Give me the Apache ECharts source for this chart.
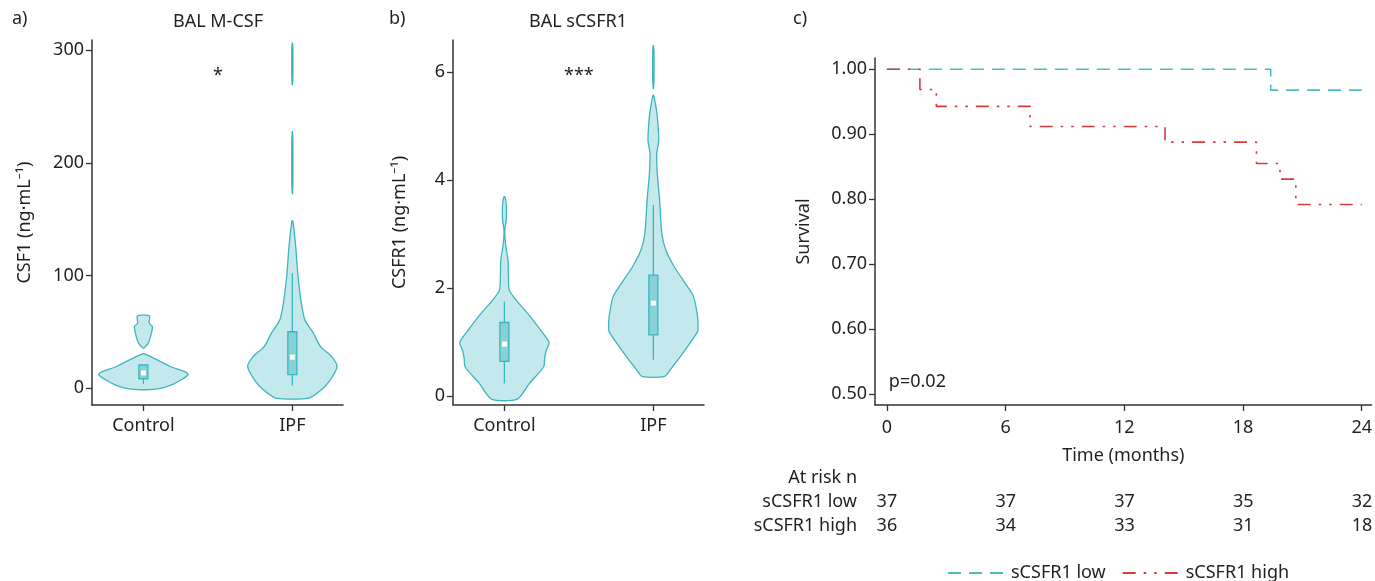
<!DOCTYPE html>
<html>
<head>
<meta charset="utf-8">
<script src="https://cdn.jsdelivr.net/npm/echarts@6/dist/echarts.min.js"></script>
<style>
html,body{margin:0;padding:0;background:#fff;}
#chart{width:1375px;height:581px;}
</style>
</head>
<body>
<div id="chart"></div>
<script>
const groups = ['Control', 'IPF']

// violin outlines as [value, relative density], a group can have several pieces
const mcsfControl = [
  [[-0.9, 0.28], [2.9, 0.63], [7.4, 0.85], [10.9, 0.98], [12.5, 1.0], [14.7, 0.92], [19.2, 0.6], [25.1, 0.31], [30.4, 0.02]],
  [[35.5, 0.01], [39.9, 0.11], [45.8, 0.16], [51.7, 0.195], [54.7, 0.2], [57.7, 0.13], [62.1, 0.14], [64.4, 0.13]]
]
const mcsfIpf = [
  [[-8.9, 0.36], [-1.5, 0.65], [7.4, 0.85], [19.2, 1.0], [28, 0.88], [36.9, 0.63], [48.8, 0.47], [60.6, 0.28], [78.3, 0.19], [102, 0.12], [125.6, 0.075], [148.4, 0.01]],
  [[172.5, 0.002], [180, 0.012], [200, 0.014], [220, 0.012], [227.7, 0.002]],
  [[269.3, 0.002], [276, 0.012], [295, 0.014], [302, 0.012], [306.3, 0.002]]
]
const scsfr1Control = [
  [[-0.06, 0.29], [0.23, 0.56], [0.54, 0.88], [0.7, 0.9], [0.85, 0.94], [0.99, 1.0], [1.22, 0.81], [1.47, 0.58], [1.78, 0.26], [1.96, 0.11], [2.21, 0.09], [2.52, 0.08], [2.76, 0.035], [2.94, 0.012], [3.09, 0.01], [3.25, 0.04], [3.45, 0.045], [3.6, 0.035], [3.69, 0.01]]
]
const scsfr1Ipf = [
  [[0.36, 0.25], [0.48, 0.375], [0.85, 0.71], [1.19, 0.99], [1.3, 1.0], [1.47, 0.99], [1.84, 0.9], [2.09, 0.71], [2.39, 0.47], [2.7, 0.28], [3.01, 0.19], [3.63, 0.14], [4.0, 0.1], [4.25, 0.08], [4.5, 0.075], [4.74, 0.12], [5.17, 0.09], [5.45, 0.04], [5.58, 0.005]],
  [[5.7, 0.002], [5.85, 0.014], [6.2, 0.016], [6.4, 0.014], [6.5, 0.002]]
]

// box stats per group: [low whisker, q1, median, q3, high whisker]
const mcsfBox = [[3.8, 8.3, 13.5, 20.5, 20.5], [2.3, 12, 27.5, 50, 102]]
const scsfr1Box = [[0.23, 0.64, 0.96, 1.36, 1.75], [0.67, 1.13, 1.72, 2.24, 3.54]]

// Kaplan-Meier steps
const kmLowT = [0, 19.4, 24]
const kmLowS = [1, 0.968, 0.968]
const kmHighT = [0, 1.67, 2.5, 7.24, 14.06, 18.68, 19.87, 20.67, 24]
const kmHighS = [1, 0.969, 0.943, 0.912, 0.888, 0.855, 0.831, 0.792, 0.792]

// at risk table
const riskTimes = [0, 6, 12, 18, 24]
const riskLow = [37, 37, 37, 35, 32]
const riskHigh = [36, 34, 33, 31, 18]

const TEAL = '#3db5bf'
const FILL = 'rgba(61,181,191,0.3)'
const BOXFILL = 'rgba(61,181,191,0.45)'
const TXT = '#231f20'
const FONT = 'Noto Sans'
const VIOLIN_W = 0.3

let chart = echarts.init(document.getElementById('chart'))

function axisBase(){
  return {
    axisLine: {show: true, onZero: false, lineStyle: {color: '#333', width: 1.5}},
    axisTick: {show: true, length: 6, lineStyle: {color: '#333', width: 1.3}},
    axisLabel: {color: TXT, fontSize: 18, fontFamily: FONT},
    splitLine: {show: false},
    nameTextStyle: {color: TXT, fontSize: 18, fontFamily: FONT}
  }
}

function groupAxis(idx){
  let a = axisBase()
  a.gridIndex = idx
  a.type = 'value'
  a.min = 0.655
  a.max = 2.34
  a.axisTick.customValues = [1, 2]
  a.axisLabel.customValues = [1, 2]
  a.axisLabel.margin = 12
  a.axisLabel.formatter = v => groups[Math.round(v) - 1]
  return a
}

function violin(idx, pieces, g){
  return {
    type: 'custom', xAxisIndex: idx, yAxisIndex: idx, z: 2,
    data: pieces.map((p, i) => [g + 1, p[0][0], i]),
    renderItem(params, api){
      const p = pieces[api.value(2)]
      const x = api.value(0)
      const right = p.map(d => api.coord([x + d[1] * VIOLIN_W, d[0]]))
      const left = p.slice().reverse().map(d => api.coord([x - d[1] * VIOLIN_W, d[0]]))
      return {
        type: 'polygon',
        shape: {points: right.concat(left), smooth: 0.25},
        style: {fill: FILL, stroke: TEAL, lineWidth: 1.3}
      }
    }
  }
}

function boxes(idx, stats){
  return {
    type: 'custom', xAxisIndex: idx, yAxisIndex: idx, z: 3,
    data: stats.map((s, i) => [i + 1].concat(s)),
    renderItem(params, api){
      const x = api.value(0)
      const p = [1, 2, 3, 4, 5].map(k => api.coord([x, api.value(k)]))
      const hw = 4.5
      const ln = {stroke: TEAL, lineWidth: 1.3}
      return {type: 'group', children: [
        {type: 'line', shape: {x1: p[0][0], y1: p[0][1], x2: p[1][0], y2: p[1][1]}, style: ln},
        {type: 'line', shape: {x1: p[3][0], y1: p[3][1], x2: p[4][0], y2: p[4][1]}, style: ln},
        {type: 'rect', shape: {x: p[3][0] - hw, y: p[3][1], width: hw * 2, height: p[1][1] - p[3][1]}, style: {fill: BOXFILL, stroke: TEAL, lineWidth: 1.3}},
        {type: 'rect', shape: {x: p[2][0] - 2.5, y: p[2][1] - 2.5, width: 5, height: 5}, style: {fill: '#fff'}}
      ]}
    }
  }
}

function note(idx, pos, text, position){
  return {
    type: 'scatter', xAxisIndex: idx, yAxisIndex: idx, symbolSize: 0, silent: true,
    itemStyle: {opacity: 1},
    data: [pos],
    label: {show: true, position: position || 'inside', distance: 0, formatter: text, color: TXT, opacity: 1, fontSize: 18, fontFamily: FONT}
  }
}

let yA = axisBase()
Object.assign(yA, {gridIndex: 0, type: 'value', min: -15, max: 309, name: 'CSF1 (ng·mL⁻¹)', nameLocation: 'middle', nameGap: 58})
yA.axisTick.customValues = [0, 100, 200, 300]
yA.axisLabel.customValues = [0, 100, 200, 300]

let yB = axisBase()
Object.assign(yB, {gridIndex: 1, type: 'value', min: -0.17, max: 6.6, name: 'CSFR1 (ng·mL⁻¹)', nameLocation: 'middle', nameGap: 44})
yB.axisTick.customValues = [0, 2, 4, 6]
yB.axisLabel.customValues = [0, 2, 4, 6]

let xC = axisBase()
Object.assign(xC, {gridIndex: 2, type: 'value', min: -0.6, max: 24.5, name: 'Time (months)', nameLocation: 'middle', nameGap: 42})
xC.axisTick.customValues = riskTimes
xC.axisLabel.customValues = riskTimes
xC.axisLabel.margin = 14

let yC = axisBase()
Object.assign(yC, {gridIndex: 2, type: 'value', min: 0.4835, max: 1.0174, name: 'Survival', nameLocation: 'middle', nameGap: 62})
const survTicks = [0.5, 0.6, 0.7, 0.8, 0.9, 1.0]
yC.axisTick.customValues = survTicks
yC.axisLabel.customValues = survTicks
yC.axisLabel.formatter = v => v.toFixed(2)

const option = {
  animation: false,
  textStyle: {fontFamily: FONT},
  grid: [
    {left: 92, top: 40, width: 251, height: 365},
    {left: 453, top: 40, width: 251, height: 365},
    {left: 875, top: 58, width: 497, height: 347},
    {left: 875, top: 466, width: 497, height: 72}
  ],
  xAxis: [groupAxis(0), groupAxis(1), xC,
    {gridIndex: 3, type: 'value', min: -0.6, max: 24.5, show: false}],
  yAxis: [yA, yB, yC,
    {gridIndex: 3, type: 'category', data: ['sCSFR1 high', 'sCSFR1 low', 'At risk n'],
     axisLine: {show: false}, axisTick: {show: false},
     axisLabel: {color: TXT, fontSize: 18, fontFamily: FONT, margin: 18}}],
  legend: {
    left: 942, top: 559, itemWidth: 58, itemHeight: 12, itemGap: 16,
    data: ['sCSFR1 low', 'sCSFR1 high'],
    itemStyle: {opacity: 0},
    textStyle: {color: TXT, fontSize: 18, fontFamily: FONT}
  },
  graphic: [
    {type: 'text', left: 12, top: 10, style: {text: 'a)', fontSize: 18, fontFamily: FONT, fill: TXT}},
    {type: 'text', left: 389, top: 10, style: {text: 'b)', fontSize: 18, fontFamily: FONT, fill: TXT}},
    {type: 'text', left: 793, top: 10, style: {text: 'c)', fontSize: 18, fontFamily: FONT, fill: TXT}},
    {type: 'text', x: 218, y: 22, style: {text: 'BAL M-CSF', fontSize: 18, fontFamily: FONT, fill: TXT, align: 'center', verticalAlign: 'middle'}},
    {type: 'text', x: 578, y: 22, style: {text: 'BAL sCSFR1', fontSize: 18, fontFamily: FONT, fill: TXT, align: 'center', verticalAlign: 'middle'}}
  ],
  series: [
    violin(0, mcsfControl, 0), violin(0, mcsfIpf, 1), boxes(0, mcsfBox),
    violin(1, scsfr1Control, 0), violin(1, scsfr1Ipf, 1), boxes(1, scsfr1Box),
    note(0, [1.5, 277], '*'),
    note(1, [1.5, 5.93], '***'),
    {
      name: 'sCSFR1 low', type: 'line', xAxisIndex: 2, yAxisIndex: 2, step: 'end',
      symbol: 'none', data: kmLowT.map((t, i) => [t, kmLowS[i]]),
      itemStyle: {color: '#4cbcc4'},
      lineStyle: {color: '#4cbcc4', width: 1.6, type: [13, 8]}
    },
    {
      name: 'sCSFR1 high', type: 'line', xAxisIndex: 2, yAxisIndex: 2, step: 'end',
      symbol: 'none', data: kmHighT.map((t, i) => [t, kmHighS[i]]),
      itemStyle: {color: '#d93a3a'},
      lineStyle: {color: '#d93a3a', width: 1.6, type: [13, 8, 2.5, 8, 2.5, 8]}
    },
    note(2, [0.1, 0.519], 'p=0.02', 'right'),
    {
      type: 'scatter', xAxisIndex: 3, yAxisIndex: 3, symbolSize: 0, silent: true,
      itemStyle: {opacity: 1},
      data: riskTimes.map((t, i) => [t, 'sCSFR1 low', riskLow[i]])
        .concat(riskTimes.map((t, i) => [t, 'sCSFR1 high', riskHigh[i]])),
      label: {show: true, position: 'inside', formatter: p => p.value[2], color: TXT, opacity: 1, fontSize: 18, fontFamily: FONT}
    }
  ]
}

chart.setOption(option)
</script>
</body>
</html>
